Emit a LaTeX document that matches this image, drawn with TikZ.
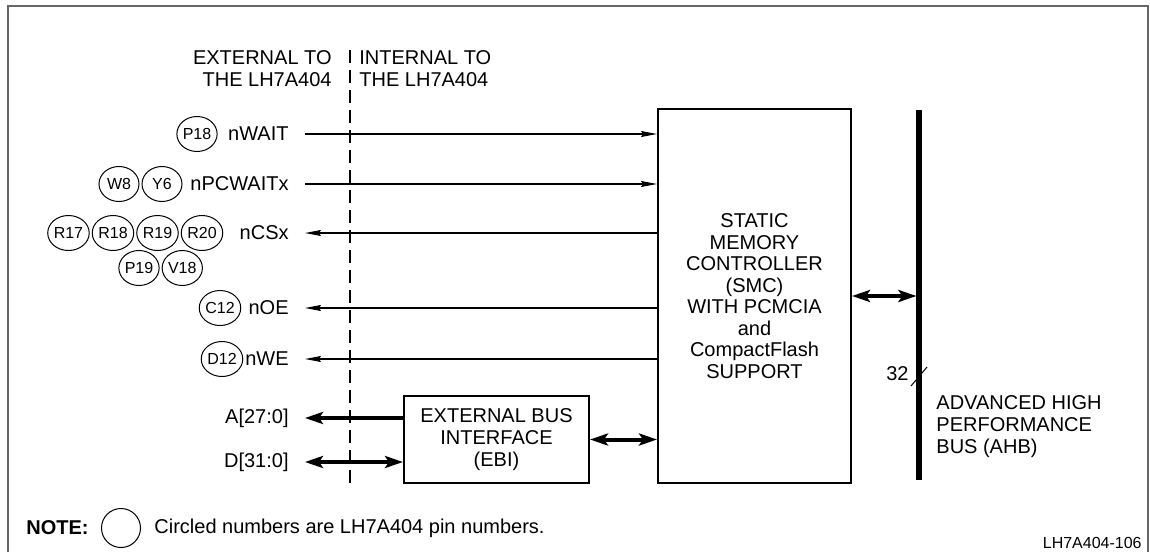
\documentclass[tikz,border=0pt]{standalone}
\usepackage{fontspec}
\setmainfont{Liberation Sans}
\usetikzlibrary{arrows.meta,positioning,shapes.geometric}

\begin{document}
\begin{tikzpicture}[
  x=0.5pt,y=-0.5pt,
  >=Stealth,
  every node/.style={font=\fontsize{10}{11}\selectfont,inner sep=1pt},
  pin/.style={ellipse,draw,line width=0.5pt,minimum width=20pt,minimum height=17.5pt,inner sep=0pt,font=\fontsize{8}{8}\selectfont},
  sig/.style={anchor=east},
  blk/.style={draw,line width=1pt,align=center},
  wire/.style={line width=0.6pt,-{Stealth[length=8pt,width=3pt,inset=1pt]}},
  busarr/.style={line width=2pt,{Stealth[length=9pt,width=6pt,inset=2pt]}-{Stealth[length=9pt,width=6pt,inset=2pt]}},
  busleft/.style={line width=2pt,-{Stealth[length=9pt,width=6pt,inset=2pt]}}
]
\useasboundingbox (0,0) rectangle (1150,552);
\draw[black!60,line width=0.6pt] (8,552) -- (8,6) -- (1148,6) -- (1148,552);

\node[anchor=east,align=right] (ext) at (334,69) {EXTERNAL TO\\THE LH7A404};
\node[anchor=west,align=left] (int) at (357,69) {INTERNAL TO\\THE LH7A404};
\coordinate (dtop) at (350,50);
\coordinate (dbot) at (350,487);
\draw[line width=1pt,dash pattern=on 6.5pt off 3.5pt] (dtop) -- (dbot);

\node[blk,minimum width=96.5pt,minimum height=187pt,font=\fontsize{10}{10.75}\selectfont] (smc) at (754.5,296)
  {STATIC\\MEMORY\\CONTROLLER\\(SMC)\\WITH PCMCIA\\and\\CompactFlash\\SUPPORT};
\node[blk,minimum width=92.5pt,minimum height=43.5pt] (ebi) at (496.5,439.5)
  {EXTERNAL BUS\\INTERFACE\\(EBI)};

\coordinate (ahbtop) at (919,110);
\coordinate (ahbbot) at (919,480);
\draw[line width=2.6pt] (ahbtop) -- (ahbbot);
\node[anchor=west,align=left] (ahb) at (934,427) {ADVANCED HIGH\\PERFORMANCE\\BUS (AHB)};
\coordinate (w1) at (911,386);
\coordinate (w2) at (927,367);
\draw[line width=0.5pt] (w1) -- (w2);
\node[anchor=east] (w32) at (911,374) {32};

\node[sig] (nwait) at (291,134) {nWAIT};
\node[sig] (npcwait) at (291,184) {nPCWAITx};
\node[sig] (ncs) at (291,233) {nCSx};
\node[sig] (noe) at (291,308) {nOE};
\node[sig] (nwe) at (291,359) {nWE};
\node[sig] (addr) at (291,418) {A[27:0]};
\node[sig] (data) at (291,462) {D[31:0]};

\node[pin] (p18) at (197,134) {P18};
\node[pin] (y6) at (162,184) {Y6};
\node[pin,left=1pt of y6] (w8) {W8};
\node[pin] (r20) at (202,233) {R20};
\node[pin,left=1pt of r20] (r19) {R19};
\node[pin,left=1pt of r19] (r18) {R18};
\node[pin,left=1pt of r18] (r17) {R17};
\node[pin] (p19) at (139,268) {P19};
\node[pin,right=1pt of p19] (v18) {V18};
\node[pin] (c12) at (220,308) {C12};
\node[pin] (d12) at (222,359) {D12};

\draw[wire,shorten <=7pt] (nwait) -- (nwait -| smc.west);
\draw[wire,shorten <=7pt] (npcwait) -- (npcwait -| smc.west);
\draw[wire,shorten >=7pt] (ncs -| smc.west) -- (ncs);
\draw[wire,shorten >=7pt] (noe -| smc.west) -- (noe);
\draw[wire,shorten >=7pt] (nwe -| smc.west) -- (nwe);
\draw[busleft,shorten >=7pt] (addr -| ebi.west) -- (addr);
\draw[busarr,shorten <=7pt] (data) -- (data -| ebi.west);
\draw[busarr] (ebi.east) -- (ebi.east -| smc.west);
\draw[busarr,shorten >=1.3pt] (smc.east) -- (smc.east -| ahbtop);

\node[anchor=west,font=\bfseries\fontsize{10}{11}\selectfont] (note) at (24,528) {NOTE:};
\node[circle,draw,line width=0.5pt,minimum size=19.5pt] (notec) at (121,528) {};
\node[anchor=west] (notet) at (152,528) {Circled numbers are LH7A404 pin numbers.};
\node[anchor=south east,font=\fontsize{8}{9}\selectfont] (fig) at (1144,551) {LH7A404-106};
\end{tikzpicture}
\end{document}
